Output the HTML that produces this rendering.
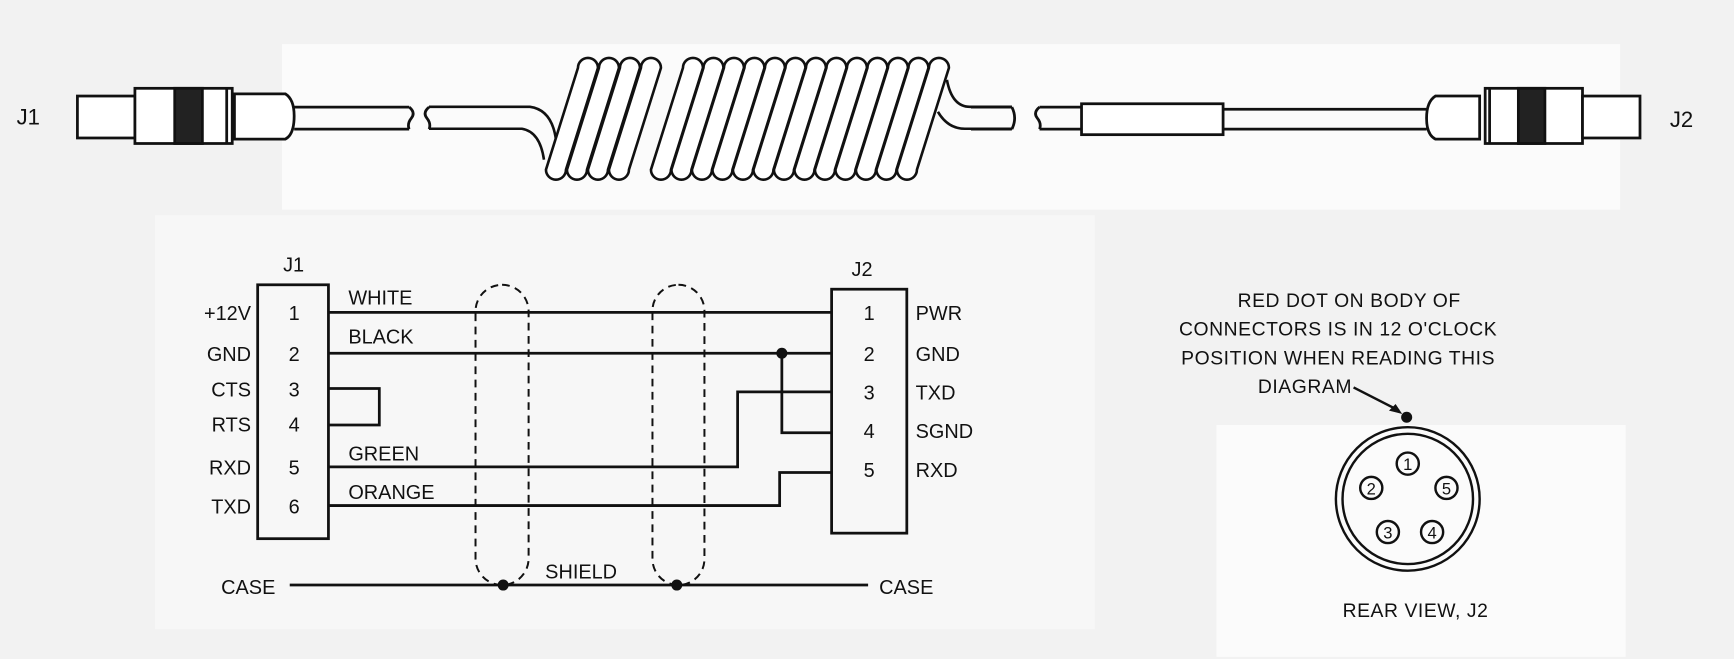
<!DOCTYPE html>
<html><head><meta charset="utf-8"><style>
html,body{margin:0;padding:0;background:#f3f3f3;}
svg{display:block;}
text{font-family:"Liberation Sans",sans-serif;fill:#111;}
</style></head><body>
<svg width="1734" height="659" viewBox="0 0 1568 597" preserveAspectRatio="none" xmlns="http://www.w3.org/2000/svg">
<rect x="0" y="0" width="1568" height="597" fill="#f2f2f2"/>
<rect x="255" y="40" width="1210" height="150" fill="#fbfbfb"/>
<rect x="140" y="195" width="850" height="375" fill="#f7f7f7"/>
<rect x="1100" y="385" width="370" height="210" fill="#fbfbfb"/>
<g stroke="#111" stroke-width="2.5" fill="none">
<rect x="70" y="87" width="52" height="38" fill="#fff"/>
<rect x="122" y="80" width="88" height="50" fill="#fff"/>
<rect x="158" y="80" width="25" height="50" fill="#222"/>
<line x1="205" y1="80" x2="205" y2="130"/>
<path d="M212 85 L258 85 Q266 90 266 105 Q266 122 258 126 L212 126 Z" fill="#fff"/>
<line x1="266" y1="97" x2="370" y2="97"/><line x1="266" y1="117" x2="370" y2="117"/>
<path d="M370 97 Q376 102 372 107 Q368 112 370 117"/>
<path d="M388 97 Q382 102 386 107 Q390 112 388 117"/>
<line x1="878" y1="97" x2="915" y2="97"/><line x1="878" y1="117" x2="915" y2="117"/>
<path d="M915 97 Q920 107 915 117"/>
<path d="M940 97 Q934 102 938 107 Q942 112 940 117"/>
<line x1="940" y1="97" x2="978" y2="97"/><line x1="940" y1="117" x2="978" y2="117"/>
<rect x="978" y="94" width="128" height="28" fill="#fff"/>
<line x1="1106" y1="99" x2="1290" y2="99"/><line x1="1106" y1="117" x2="1290" y2="117"/>
<path d="M1338 87 L1298 87 Q1290 92 1290 107 Q1290 122 1298 126 L1338 126 Z" fill="#fff"/>
<rect x="1343" y="80" width="88" height="50" fill="#fff"/>
<rect x="1373" y="80" width="24" height="50" fill="#222"/>
<line x1="1347" y1="80" x2="1347" y2="130"/>
<rect x="1431" y="87" width="52" height="38" fill="#fff"/>
</g>
<text x="15" y="113" font-size="20">J1</text>
<text x="1510" y="115" font-size="20">J2</text>
<g transform="scale(0.9042)" stroke="#111" stroke-width="2.6" fill="#fff" stroke-linejoin="round">
<path d="M429 107 L530 107 Q552 110 556 140" fill="none"/>
<path d="M429 129 L522 129 Q540 132 544 160" fill="none"/>
<path d="M578 68 A10 10 0 0 1 598 68 L566 170 A10 10 0 0 1 546 170 Z"/>
<path d="M599 68 A10 10 0 0 1 619 68 L587 170 A10 10 0 0 1 567 170 Z"/>
<path d="M620 68 A10 10 0 0 1 640 68 L608 170 A10 10 0 0 1 588 170 Z"/>
<path d="M641 68 A10 10 0 0 1 661 68 L629 170 A10 10 0 0 1 609 170 Z"/>
<path d="M683 68 A10 10 0 0 1 703 68 L671 170 A10 10 0 0 1 651 170 Z"/>
<path d="M703.5 68 A10 10 0 0 1 723.5 68 L691.5 170 A10 10 0 0 1 671.5 170 Z"/>
<path d="M724 68 A10 10 0 0 1 744 68 L712 170 A10 10 0 0 1 692 170 Z"/>
<path d="M744.5 68 A10 10 0 0 1 764.5 68 L732.5 170 A10 10 0 0 1 712.5 170 Z"/>
<path d="M765 68 A10 10 0 0 1 785 68 L753 170 A10 10 0 0 1 733 170 Z"/>
<path d="M785.5 68 A10 10 0 0 1 805.5 68 L773.5 170 A10 10 0 0 1 753.5 170 Z"/>
<path d="M806 68 A10 10 0 0 1 826 68 L794 170 A10 10 0 0 1 774 170 Z"/>
<path d="M826.5 68 A10 10 0 0 1 846.5 68 L814.5 170 A10 10 0 0 1 794.5 170 Z"/>
<path d="M847 68 A10 10 0 0 1 867 68 L835 170 A10 10 0 0 1 815 170 Z"/>
<path d="M867.5 68 A10 10 0 0 1 887.5 68 L855.5 170 A10 10 0 0 1 835.5 170 Z"/>
<path d="M888 68 A10 10 0 0 1 908 68 L876 170 A10 10 0 0 1 856 170 Z"/>
<path d="M908.5 68 A10 10 0 0 1 928.5 68 L896.5 170 A10 10 0 0 1 876.5 170 Z"/>
<path d="M929 68 A10 10 0 0 1 949 68 L917 170 A10 10 0 0 1 897 170 Z"/>
<path d="M947 80 Q952 107 970 107 L1012 107" fill="none"/>
<path d="M938 112 Q948 129 965 129 L1012 129" fill="none"/>
</g>
<g stroke="#111" stroke-width="2.5" fill="none">
<rect x="233" y="258" width="64" height="230"/>
<rect x="752" y="262" width="68" height="221"/>
<line x1="297" y1="283" x2="752" y2="283"/>
<line x1="297" y1="320" x2="752" y2="320"/>
<polyline points="297,352 343,352 343,385 297,385"/>
<polyline points="297,423 667,423 667,355 752,355"/>
<polyline points="297,458 705,458 705,428 752,428"/>
<polyline points="707,320 707,392 752,392"/>
<line x1="262" y1="530" x2="785" y2="530"/>
<g stroke-dasharray="7 5" stroke-width="1.8">
<rect x="430" y="258" width="48" height="272" rx="24"/>
<rect x="590" y="258" width="47" height="272" rx="23.5"/>
</g>
</g>
<g fill="#111"><circle cx="707" cy="320" r="5"/><circle cx="455" cy="530" r="5"/><circle cx="612" cy="530" r="5"/></g>
<g font-size="18">
<text x="256" y="246">J1</text><text x="770" y="250">J2</text>
<g text-anchor="end"><text x="227" y="290">+12V</text><text x="227" y="327">GND</text><text x="227" y="359">CTS</text><text x="227" y="391">RTS</text><text x="227" y="430">RXD</text><text x="227" y="465">TXD</text></g>
<g text-anchor="middle"><text x="266" y="290">1</text><text x="266" y="327">2</text><text x="266" y="359">3</text><text x="266" y="391">4</text><text x="266" y="430">5</text><text x="266" y="465">6</text>
<text x="786" y="290">1</text><text x="786" y="327">2</text><text x="786" y="362">3</text><text x="786" y="397">4</text><text x="786" y="432">5</text></g>
<text x="828" y="290">PWR</text><text x="828" y="327">GND</text><text x="828" y="362">TXD</text><text x="828" y="397">SGND</text><text x="828" y="432">RXD</text>
<text x="315" y="276">WHITE</text><text x="315" y="311">BLACK</text><text x="315" y="417">GREEN</text><text x="315" y="452">ORANGE</text>
<text x="200" y="538">CASE</text><text x="795" y="538">CASE</text><text x="493" y="524">SHIELD</text>
</g>
<g font-size="17.5" text-anchor="middle" letter-spacing="0.5">
<text x="1220" y="278">RED DOT ON BODY OF</text>
<text x="1210" y="304">CONNECTORS IS IN 12 O'CLOCK</text>
<text x="1210" y="330">POSITION WHEN READING THIS</text>
<text x="1180" y="356">DIAGRAM</text>
<text x="1280" y="559">REAR VIEW, J2</text>
</g>
<g stroke="#111" stroke-width="2.2" fill="none">
<path d="M1224 351 L1265 372"/>
<circle cx="1273" cy="452" r="65"/><circle cx="1273" cy="452" r="59"/>
<circle cx="1273" cy="420" r="10"/><circle cx="1240" cy="442" r="10"/><circle cx="1308" cy="442" r="10"/><circle cx="1255" cy="482" r="10"/><circle cx="1295" cy="482" r="10"/>
</g>
<path d="M1268 375 L1256 372 L1262 366 Z" fill="#111"/>
<circle cx="1272" cy="378" r="5" fill="#111"/>
<g font-size="15" text-anchor="middle"><text x="1273" y="426">1</text><text x="1240" y="448">2</text><text x="1308" y="448">5</text><text x="1255" y="488">3</text><text x="1295" y="488">4</text></g>
</svg>
</body></html>
